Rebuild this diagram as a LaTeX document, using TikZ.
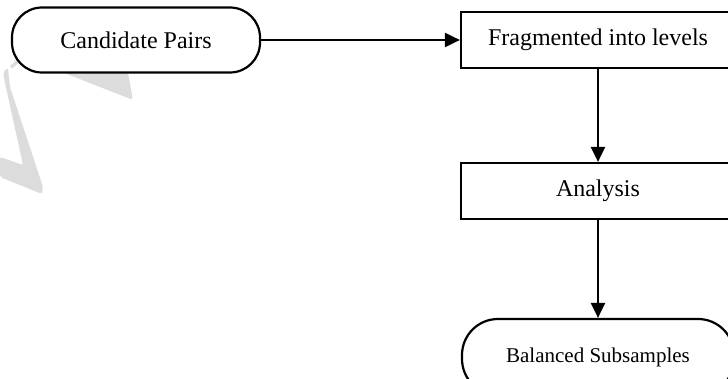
\documentclass[tikz,border=0pt]{standalone}
\usepackage{fontspec}
\setmainfont{Liberation Serif}
\usetikzlibrary{arrows.meta}
\definecolor{wmgray}{RGB}{220,220,220}

\begin{document}
\begin{tikzpicture}[x=0.5pt, y=-0.5pt,
    box/.style={draw, line width=1.1pt, fill=white, minimum width=137pt, minimum height=28pt,
                font=\fontsize{12}{14}\selectfont},
    terminal/.style={draw, line width=1.1pt, fill=white, rounded corners=15pt,
                font=\fontsize{12}{14}\selectfont},
    arr/.style={line width=1.1pt, -{Triangle[length=7.5pt, width=7pt]}}]
    % Page frame
    \clip (0, 0) rectangle (728, 379);

    % Faint watermark strokes
    \fill[wmgray, rounded corners=1.5pt] (20, 55.5) -- (30, 40) -- (122, 40) -- (133, 100) -- cycle;
    \fill[wmgray, rounded corners=1pt] (0, 157) -- (23, 165) -- (5, 83) -- (3, 72) -- (8, 68)
        -- (10, 87) -- (43, 187) -- (42, 194) -- (0, 177) -- cycle;
    \fill[wmgray] (10, 66) -- (17, 60) -- (19, 62.5) -- (12, 68.5) -- cycle;

    % Draw the boxes
    \node[terminal, minimum width=124pt, minimum height=32.5pt] (cand) at (136, 40) {Candidate Pairs};
    \node[box] (frag) at (598, 40) {Fragmented into levels};
    \node[box] (ana) at (598, 191) {Analysis};
    \node[terminal, rounded corners=18pt, minimum width=136pt, minimum height=38pt,
          font=\fontsize{10.5}{12.5}\selectfont] (bal) at (598, 357) {Balanced Subsamples};

    % Arrows
    \draw[arr] (cand.east) -- (frag.west);
    \draw[arr] (frag.south) -- (ana.north);
    \draw[arr] (ana.south) -- (bal.north);
\end{tikzpicture}
\end{document}
